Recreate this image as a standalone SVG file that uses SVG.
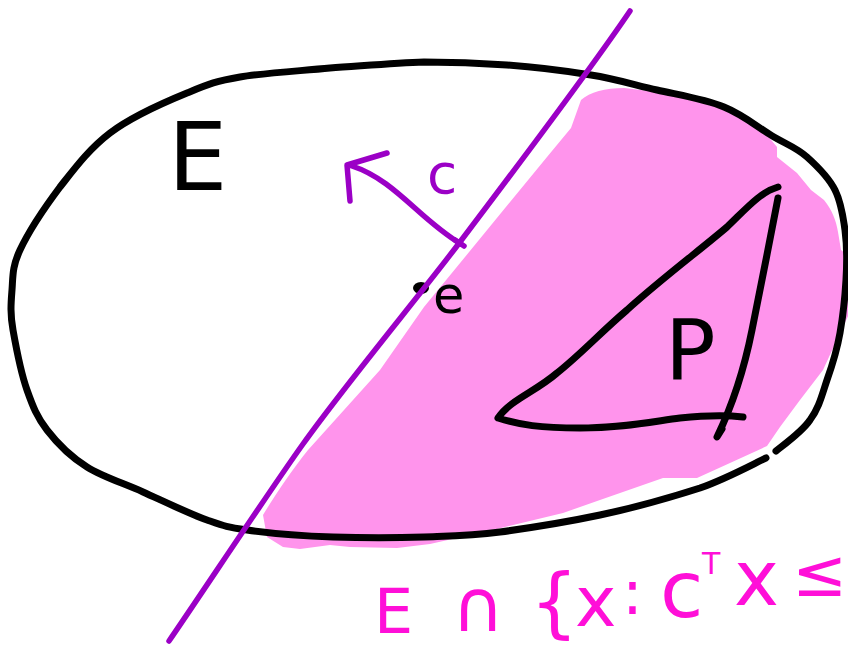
<svg xmlns="http://www.w3.org/2000/svg" width="848" height="648" viewBox="0 0 848 648">
<style>
.ink{fill:none;stroke:#000;stroke-width:7;stroke-linecap:round;stroke-linejoin:round}
.pur{fill:none;stroke:#9b00c6;stroke-width:5.5;stroke-linecap:round;stroke-linejoin:round}
.lbl{font-family:"DejaVu Sans","Liberation Sans",sans-serif}
</style>
<rect width="848" height="648" fill="#fff"/>
<g id="halfspace-region">
<path fill="#ff94ec" d="M581,100 C590,92 605,88 624,88 L657,92 L724,108 C740,112 750,118 757,123 L777,147 L777,157 L797,173 L811,190 L824,200 C832,210 836,220 838,232 L841,250 L850,257 L850,312 L840,333 L823,370 L800,400 L780,427 L767,446 L730,463 L697,478 L663,478 L600,500 L563,513 L497,529 L430,544 L397,548 L350,547 L330,545 L300,549 L283,547 L267,537 L263,515 C275,495 292,470 308,450 L380,370 L424,307 L547,157 L571,128 Z"/>
</g>
<g id="ellipse-E">
<path class="ink" d="M766,458 C755,463 728,478 700,488 C672,497 633,508 600,515 C567,522 529,528 500,532 C471,536 452,536 424,537 C396,538 362,538 333,537 C303,536 268,533 247,530 C226,527 224,526 207,520 C190,514 163,501 143,492 C123,483 103,477 87,467 C71,457 57,443 47,430 C37,417 33,407 27,390 C21,373 16,347 13,330 C10,313 11,303 12,290 C13,277 12,267 20,250 C28,233 45,207 60,187 C75,168 89,149 110,133 C131,117 165,102 187,93 C209,84 216,81 240,77 C264,73 299,71 330,68 C361,66 395,63 424,62 C454,62 479,63 507,65 C535,67 566,71 591,75 C616,79 635,85 657,90 C679,95 705,99 724,107 C744,115 760,129 774,137 C788,145 797,148 807,157 C817,166 829,178 835,190 C841,202 843,215 845,230 C847,245 847,263 846,280 C845,297 843,316 840,333 C837,350 832,366 827,380 C822,395 819,408 810,420 C802,432 782,446 776,451"/>
<text class="lbl" x="168" y="190" font-size="94" fill="#000">E</text>
</g>
<g id="polytope-P">
<path class="ink" d="M778,187 C760,192 745,210 727,227 C700,250 660,280 627,310 C600,333 580,355 557,373 C535,392 510,400 498,418 C520,425 540,428 580,428 C620,428 650,422 680,418 C700,416 725,415 743,417"/>
<path class="ink" d="M778,198 C770,240 760,290 752,330 C745,365 735,400 717,437 L722,429"/>
<text class="lbl" x="665" y="380" font-size="84" fill="#000">P</text>
</g>
<g id="center-e">
<ellipse cx="421" cy="288" rx="8" ry="6" fill="#000"/>
<text class="lbl" x="433" y="313" font-size="51" fill="#000">e</text>
</g>
<g id="connectors">
<path class="pur" d="M630,11 C590,70 510,176 460,242 C420,295 345,385 303,444 C270,490 200,596 169,641"/>
<path class="pur" d="M461,244 C420,220 395,180 352,166"/>
<path class="pur" d="M387,153 L347,165 L350,201"/>
<path class="pur" d="M455,240 L464,246"/>
</g>
<g id="label-c">
<text class="lbl" x="427" y="193" font-size="55" fill="#9b00c6">c</text>
</g>
<g id="label-set">
<text class="lbl" fill="#ff0fd8" font-size="62"><tspan x="374" y="633">E</tspan><tspan x="452" y="631" font-size="72">∩</tspan><tspan x="530" y="628" font-size="76">{</tspan><tspan x="575" y="626" font-size="70">x</tspan><tspan x="622" y="614">:</tspan><tspan x="660" y="617" font-size="79">c</tspan><tspan x="702" y="574" font-size="30">T</tspan><tspan x="734" y="605" font-size="76">x</tspan><tspan x="792" y="596" font-size="66">≤</tspan></text>
</g>
</svg>
